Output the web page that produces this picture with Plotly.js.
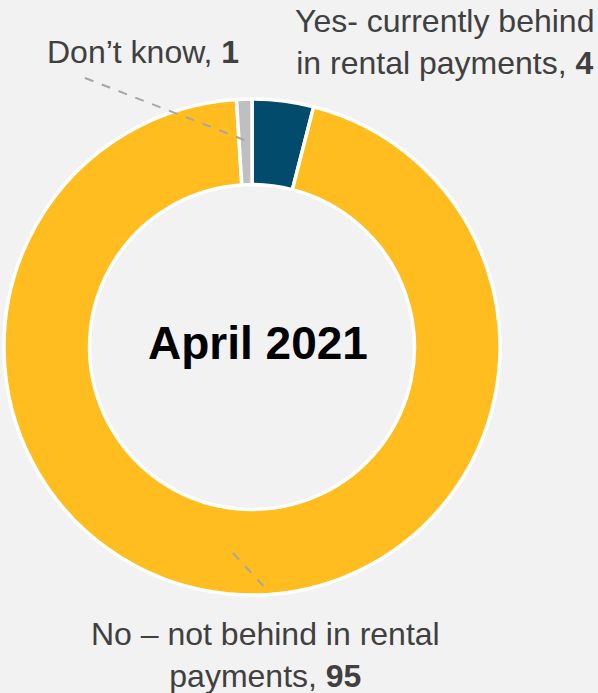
<!DOCTYPE html>
<html>
<head>
<meta charset="utf-8">
<script src="https://cdn.plot.ly/plotly-3.0.1.min.js"></script>
<style>html,body{margin:0;padding:0;background:#f2f2f2;}#chart{width:598px;height:693px;}</style>
</head>
<body>
<div id="chart"></div>
<script>
const categories = ["Yes- currently behind in rental payments", "No – not behind in rental payments", "Don’t know"];
const values = [4, 95, 1];
const colors = ["#024b6c", "#ffbd1f", "#bfbfbf"];
const labelTexts = [
  "Yes- currently behind<br>in rental payments, <b>4</b>",
  "No – not behind in rental<br>payments, <b>95</b>",
  "Don’t know, <b>1</b>"
];
const centerTitle = "April 2021";

const W = 598, H = 693;
const px = x => x / W;
const py = y => 1 - y / H;

const font = {family: "Liberation Sans, Arial, sans-serif", size: 32, color: "#404040"};

const trace = {
  type: "pie",
  values: values,
  labels: categories,
  marker: {colors: colors, line: {color: "#ffffff", width: 3.5}},
  hole: 0.655,
  sort: false,
  direction: "clockwise",
  rotation: 0,
  textinfo: "none",
  hoverinfo: "none",
  domain: {x: [px(4), px(500)], y: [py(595), py(99)]}
};

const layout = {
  width: W, height: H,
  margin: {l: 0, r: 0, t: 0, b: 0},
  paper_bgcolor: "#f2f2f2",
  plot_bgcolor: "#f2f2f2",
  showlegend: false,
  shapes: [
    {type: "line", xref: "paper", yref: "paper", x0: px(85), y0: py(78), x1: px(247), y1: py(141),
     line: {color: "#a6a6a6", width: 2, dash: "dash"}},
    {type: "line", xref: "paper", yref: "paper", x0: px(233), y0: py(553), x1: px(266), y1: py(589),
     line: {color: "#a6a6a6", width: 2, dash: "dash"}}
  ],
  annotations: [
    {text: labelTexts[0], xref: "paper", yref: "paper", x: px(445), y: py(42), xanchor: "center", yanchor: "middle",
     showarrow: false, align: "center", font: font},
    {text: labelTexts[1], xref: "paper", yref: "paper", x: px(265.5), y: py(655), xanchor: "center", yanchor: "middle",
     showarrow: false, align: "center", font: font},
    {text: labelTexts[2], xref: "paper", yref: "paper", x: px(143), y: py(52), xanchor: "center", yanchor: "middle",
     showarrow: false, align: "center", font: font},
    {text: "<b>" + centerTitle + "</b>", xref: "paper", yref: "paper", x: px(258), y: py(343), xanchor: "center", yanchor: "middle",
     showarrow: false, font: {family: "Liberation Sans, Arial, sans-serif", size: 46, color: "#000000"}}
  ]
};

Plotly.newPlot("chart", [trace], layout, {displayModeBar: false, staticPlot: true});
</script>
</body>
</html>
